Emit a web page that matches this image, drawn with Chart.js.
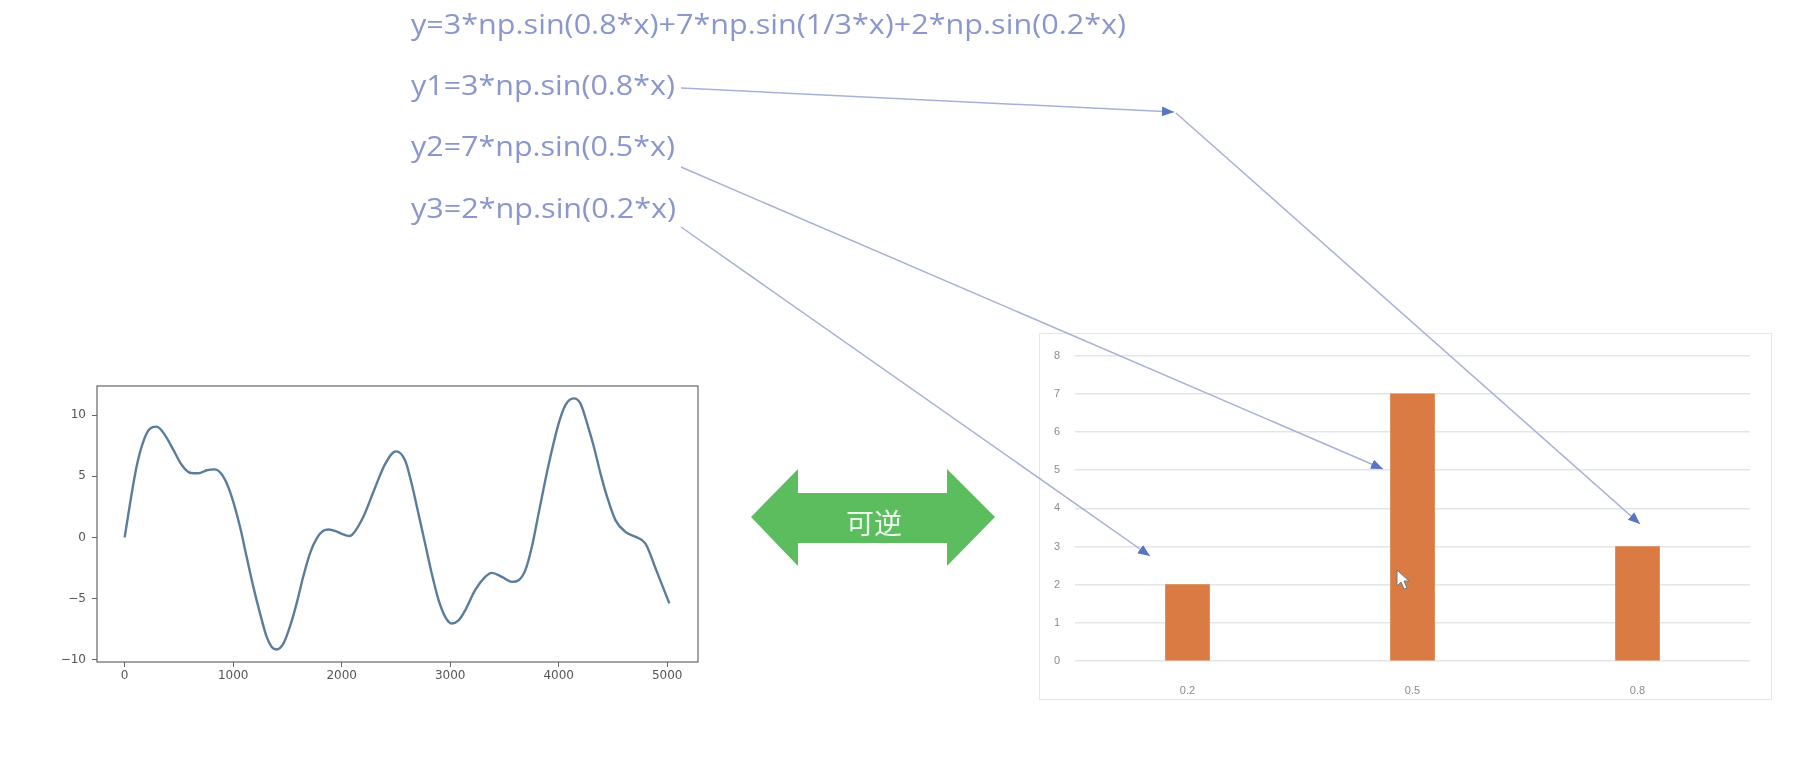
<!DOCTYPE html>
<html>
<head>
<meta charset="utf-8">
<script src="https://cdn.jsdelivr.net/npm/chart.js@4.4.1/dist/chart.umd.min.js"></script>
<style>
  body { margin: 0; width: 1806px; height: 757px; background: #fff; position: relative; overflow: hidden; }
  .box { position: absolute; }
  #frameBars { position: absolute; left: 1039px; top: 333px; width: 733px; height: 367px; border: 1.5px solid #e4e6ec; box-sizing: border-box; }
  #overlay { position: absolute; left: 0; top: 0; pointer-events: none; }
</style>
</head>
<body>

<div class="box" style="left:0;top:360px;width:740px;height:330px;"><canvas id="myChartWave"></canvas></div>
<div id="frameBars"></div>
<div class="box" style="left:1040px;top:334px;width:731px;height:365px;"><canvas id="myChartFreq"></canvas></div>

<svg id="overlay" width="1806" height="757" xmlns="http://www.w3.org/2000/svg">
  <defs>
    <marker id="tip" markerUnits="userSpaceOnUse" markerWidth="14" markerHeight="12" refX="12" refY="5" orient="auto">
      <path d="M0,0 L12,5 L0,10 z" fill="#5676c2" />
    </marker>
  </defs>
  <g font-family="'Open Sans', 'Noto Sans', sans-serif" font-size="27" fill="#8b97cc">
    <text x="411" y="34" textLength="715" lengthAdjust="spacingAndGlyphs">y=3*np.sin(0.8*x)+7*np.sin(1/3*x)+2*np.sin(0.2*x)</text>
    <text x="411" y="95" textLength="264" lengthAdjust="spacingAndGlyphs">y1=3*np.sin(0.8*x)</text>
    <text x="411" y="156" textLength="264" lengthAdjust="spacingAndGlyphs">y2=7*np.sin(0.5*x)</text>
    <text x="411" y="218" textLength="265" lengthAdjust="spacingAndGlyphs">y3=2*np.sin(0.2*x)</text>
  </g>
  <g stroke="#a7b1d8" stroke-width="1.5" fill="none">
    <line x1="681" y1="88" x2="1174" y2="112" marker-end="url(#tip)" />
    <line x1="1176" y1="113" x2="1640" y2="524" marker-end="url(#tip)" />
    <line x1="681" y1="167" x2="1383" y2="469" marker-end="url(#tip)" />
    <line x1="681" y1="227" x2="1150" y2="556" marker-end="url(#tip)" />
  </g>
  <!-- double arrow -->
  <polygon points="751,517 798,469 798,493 947,493 947,469 995,517 947,566 947,543 798,543 798,566" fill="#5cbd5f" />
  <text x="874" y="522" text-anchor="middle" dominant-baseline="central" font-family="'Noto Sans CJK SC', sans-serif" font-size="28" fill="#eaf7ea">可逆</text>
  <!-- mouse pointer -->
  <path d="M1397,570 L1397,586 L1401,582 L1404,589 L1407,588 L1404,581 L1409,581 z" fill="#fff" stroke="#777" stroke-width="1" />
</svg>

<script>
// curve (sample position, value)
var waveX = [0, 50, 110, 170, 233, 295, 370, 450, 525, 600, 680, 756, 832, 909,
  986, 1063, 1124, 1186, 1247, 1309, 1355, 1400, 1462, 1523, 1585, 1646, 1708,
  1770, 1830, 1880, 1950, 2000, 2070, 2100, 2200, 2300, 2400, 2500, 2585, 2645,
  2707, 2769, 2830, 2892, 2954, 3015, 3077, 3139, 3231, 3323, 3384, 3476, 3569,
  3631, 3692, 3753, 3815, 3877, 3938, 4000, 4062, 4139, 4200, 4262, 4324, 4385,
  4446, 4523, 4615, 4708, 4800, 4900, 5020];
var waveY = [0, 2.8, 5.8, 7.8, 8.9, 9.07, 8.4, 7.15, 5.95, 5.3, 5.25, 5.5, 5.57, 4.97,
  3.35, 0.87, -1.59, -4.05, -6.2, -8.15, -8.97, -9.18, -8.7, -7.3, -5.4, -3.2, -1.3,
  -0.08, 0.54, 0.65, 0.5, 0.3, 0.12, 0.25, 1.7, 3.9, 6.0, 7.05, 6.3, 4.4,
  1.97, -0.5, -2.95, -5.1, -6.5, -7.05, -6.8, -5.96, -4.3, -3.23, -2.9, -3.23, -3.64,
  -3.5, -2.7, -0.77, 1.97, 4.7, 7.16, 9.34, 10.84, 11.39, 10.98, 9.34, 7.43, 5.25,
  3.33, 1.42, 0.46, 0.05, -0.5, -2.7, -5.4];
var waveXTicks = [0, 1000, 2000, 3000, 4000, 5000];
var waveYTicks = [-10, -5, 0, 5, 10];

// amplitudes per frequency (right plot)
var freqLabels = ["0.2", "0.5", "0.8"];
var freqAmps = [2, 7, 3];

var framePlugin = {
  id: "frame",
  afterDraw: function (chart) {
    var a = chart.chartArea, ctx = chart.ctx;
    ctx.save();
    ctx.strokeStyle = "#666";
    ctx.lineWidth = 1.2;
    ctx.strokeRect(a.left, a.top, a.right - a.left, a.bottom - a.top);
    ctx.restore();
  },
};

var chWave = document.getElementById("myChartWave").getContext("2d");

var myChartWave = new Chart(chWave, {
  type: "line",
  plugins: [framePlugin],
  data: {
    datasets: [
      {
        data: waveX.map(function (x, i) { return { x: x, y: waveY[i] }; }),
        borderColor: "#5a7d9b",
        borderWidth: 2.4,
        pointRadius: 0,
        cubicInterpolationMode: "monotone",
        fill: false,
      },
    ],
  },
  options: {
    responsive: true,
    maintainAspectRatio: false,
    animation: false,
    layout: { padding: { top: 26, right: 42, left: 0, bottom: 0 } },
    plugins: { legend: { display: false }, tooltip: { enabled: false } },
    scales: {
      x: {
        type: "linear",
        min: -255,
        max: 5284,
        afterFit: function (s) { s.height = 28; },
        afterBuildTicks: function (s) { s.ticks = waveXTicks.map(function (v) { return { value: v }; }); },
        grid: { drawOnChartArea: false, tickLength: 5, color: "#666" },
        border: { display: false },
        ticks: {
          color: "#555",
          padding: 2,
          maxRotation: 0,
          font: { family: "DejaVu Sans", size: 12 },
          callback: function (v) { return String(v); },
        },
      },
      y: {
        min: -10.2,
        max: 12.4,
        afterFit: function (s) { s.width = 97; },
        afterBuildTicks: function (s) { s.ticks = waveYTicks.map(function (v) { return { value: v }; }); },
        grid: { drawOnChartArea: false, tickLength: 5, color: "#666" },
        border: { display: false },
        ticks: {
          color: "#555",
          padding: 6,
          font: { family: "DejaVu Sans", size: 12 },
          callback: function (v) { return v < 0 ? "\u2212" + Math.abs(v) : String(v); },
        },
      },
    },
  },
});

var chFreq = document.getElementById("myChartFreq").getContext("2d");

var myChartFreq = new Chart(chFreq, {
  type: "bar",
  data: {
    labels: freqLabels,
    datasets: [
      {
        data: freqAmps,
        backgroundColor: "#d97b42",
        barThickness: 44,
      },
    ],
  },
  options: {
    responsive: true,
    maintainAspectRatio: false,
    animation: false,
    layout: { padding: { top: 19, right: 21, left: 0, bottom: 0 } },
    plugins: { legend: { display: false }, tooltip: { enabled: false } },
    scales: {
      x: {
        afterFit: function (s) { s.height = 38; },
        grid: { display: false },
        border: { display: false },
        ticks: { color: "#8c8c8c", padding: 15, font: { family: "Liberation Sans", size: 11 } },
      },
      y: {
        min: 0,
        max: 8,
        afterFit: function (s) { s.width = 35; },
        grid: { color: "#e4e5ea", lineWidth: 1.5, drawTicks: false },
        border: { display: false },
        ticks: { stepSize: 1, color: "#8c8c8c", padding: 15, font: { family: "Liberation Sans", size: 11 } },
      },
    },
  },
});
</script>
</body>
</html>
